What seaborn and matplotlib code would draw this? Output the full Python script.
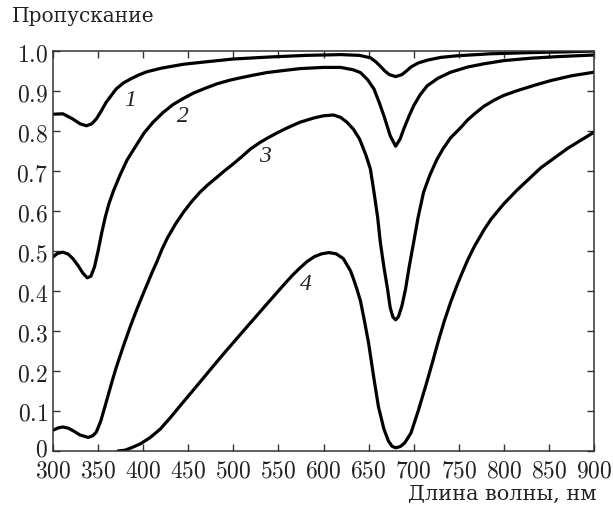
import matplotlib
matplotlib.use("Agg")
import matplotlib.pyplot as plt
import matplotlib.transforms as mtransforms
import seaborn as sns
import pandas as pd

# ---- data ----
x1 = [300, 311, 322, 330, 337, 343, 348, 353, 359, 365, 370, 378, 386, 395, 404, 420, 445, 470, 500, 540, 580, 619, 640, 652, 658, 663, 668, 673, 680, 687, 692, 697, 705, 715, 730, 748, 785, 830, 870, 900]
y1 = [0.842, 0.843, 0.830, 0.818, 0.813, 0.818, 0.830, 0.848, 0.872, 0.890, 0.905, 0.920, 0.930, 0.940, 0.948, 0.957, 0.967, 0.973, 0.980, 0.985, 0.989, 0.991, 0.989, 0.983, 0.973, 0.962, 0.950, 0.941, 0.936, 0.941, 0.950, 0.960, 0.970, 0.977, 0.984, 0.988, 0.993, 0.996, 0.998, 1.0]

x2 = [300, 305, 311, 317, 322, 328, 333, 338, 342, 346, 350, 354, 358, 362, 367, 374, 382, 392, 401, 411, 422, 433, 445, 456, 469, 482, 496, 510, 523, 537, 555, 574, 600, 619, 633, 641, 649, 656, 662, 667, 674, 680, 685, 689, 695, 700, 707, 715, 727, 741, 760, 778, 800, 830, 860, 900]
y2 = [0.485, 0.494, 0.497, 0.492, 0.481, 0.463, 0.445, 0.433, 0.437, 0.460, 0.500, 0.545, 0.585, 0.618, 0.650, 0.688, 0.727, 0.763, 0.795, 0.822, 0.846, 0.866, 0.882, 0.895, 0.907, 0.918, 0.927, 0.934, 0.940, 0.946, 0.951, 0.956, 0.959, 0.959, 0.953, 0.946, 0.928, 0.905, 0.870, 0.838, 0.788, 0.762, 0.780, 0.805, 0.838, 0.863, 0.890, 0.913, 0.932, 0.947, 0.960, 0.968, 0.976, 0.982, 0.986, 0.990]

x3 = [300, 306, 311, 317, 322, 330, 339, 344, 348, 353, 359, 365, 370, 378, 386, 394, 400, 405, 410, 415, 421, 427, 436, 445, 454, 463, 471, 480, 490, 500, 510, 519, 530, 540, 550, 560, 574, 590, 600, 611, 619, 626, 633, 640, 647, 652, 656, 660, 663, 667, 671, 674, 677, 680, 683, 687, 691, 695, 700, 705, 711, 718, 726, 733, 741, 752, 760, 767, 778, 790, 800, 815, 835, 852, 875, 900]
y3 = [0.052, 0.058, 0.060, 0.057, 0.051, 0.040, 0.034, 0.038, 0.047, 0.075, 0.122, 0.170, 0.208, 0.262, 0.313, 0.360, 0.393, 0.420, 0.447, 0.472, 0.505, 0.533, 0.568, 0.598, 0.624, 0.647, 0.664, 0.681, 0.700, 0.718, 0.737, 0.755, 0.772, 0.785, 0.797, 0.808, 0.822, 0.833, 0.838, 0.840, 0.834, 0.822, 0.805, 0.780, 0.740, 0.705, 0.647, 0.585, 0.522, 0.460, 0.405, 0.358, 0.335, 0.328, 0.335, 0.363, 0.405, 0.460, 0.522, 0.585, 0.647, 0.690, 0.730, 0.757, 0.783, 0.808, 0.828, 0.842, 0.862, 0.878, 0.889, 0.901, 0.915, 0.926, 0.938, 0.947]

x4 = [372, 380, 389, 397, 408, 419, 430, 441, 454, 467, 478, 490, 508, 520, 537, 555, 565, 574, 582, 590, 598, 606, 614, 622, 630, 633, 637, 641, 645, 650, 656, 661, 667, 672, 676, 680, 685, 690, 697, 705, 713, 720, 727, 734, 741, 747, 752, 760, 767, 778, 786, 800, 815, 841, 871, 900]
y4 = [0.0, 0.002, 0.010, 0.018, 0.034, 0.055, 0.083, 0.113, 0.148, 0.183, 0.213, 0.245, 0.292, 0.323, 0.367, 0.413, 0.438, 0.458, 0.474, 0.486, 0.493, 0.496, 0.493, 0.481, 0.450, 0.432, 0.405, 0.375, 0.330, 0.270, 0.180, 0.110, 0.055, 0.025, 0.012, 0.008, 0.011, 0.020, 0.045, 0.100, 0.160, 0.215, 0.272, 0.325, 0.372, 0.408, 0.436, 0.478, 0.510, 0.553, 0.580, 0.618, 0.653, 0.708, 0.757, 0.797]

curve_names = ["1", "2", "3", "4"]
label_x = [385.5, 444.5, 535.5, 580.0]
label_y = [0.880, 0.838, 0.740, 0.418]

x_ticks = [300, 350, 400, 450, 500, 550, 600, 650, 700, 750, 800, 850, 900]
x_ticklabels = ["300", "350", "400", "450", "500", "550", "600", "650", "700", "750", "800", "850", "900"]
y_ticks = [0, 0.1, 0.2, 0.3, 0.4, 0.5, 0.6, 0.7, 0.8, 0.9, 1.0]
y_ticklabels = ["0", "0.1", "0.2", "0.3", "0.4", "0.5", "0.6", "0.7", "0.8", "0.9", "1.0"]

title_text = "Пропускание"
xlabel_text = "Длина волны, нм"

# ---- build long-form table ----
frames = []
for name, xs, ys in zip(curve_names, [x1, x2, x3, x4], [y1, y2, y3, y4]):
    frames.append(pd.DataFrame({"wl": xs, "T": ys, "curve": name}))
df = pd.concat(frames, ignore_index=True)

sns.set_style("ticks")
plt.rcParams["font.family"] = ["DejaVu Serif"]
plt.rcParams["mathtext.fontset"] = "cm"

fig = plt.figure(figsize=(6.13, 5.06), dpi=100)
ax = fig.add_axes([53 / 613, 54 / 506, 541 / 613, 400 / 506])

sns.lineplot(data=df, x="wl", y="T", hue="curve",
             palette={n: "black" for n in curve_names},
             linewidth=2.3, legend=False, ax=ax, sort=True, estimator=None)
for ln in ax.lines:
    ln.set_solid_joinstyle("round")
    ln.set_solid_capstyle("round")

ax.set_xlim(300, 900)
ax.set_ylim(0, 1.0)
ax.set_xlabel("")
ax.set_ylabel("")

ax.set_xticks(x_ticks)
ax.set_xticklabels(["$" + t + "$" for t in x_ticklabels], fontsize=17)
ax.set_yticks(y_ticks)
ax.set_yticklabels(["$" + t + "$" for t in y_ticklabels], fontsize=17)

ax.tick_params(direction="in", length=5, width=1.0, color="#333333",
               top=True, right=True, labelcolor="#222222")
ax.tick_params(axis="x", pad=5.5)
ax.tick_params(axis="y", pad=3.5)
for s in ax.spines.values():
    s.set_visible(True)
    s.set_linewidth(1.1)
    s.set_color("#333333")

# nudge the bottom y label ("0") slightly up so it clears the "300" label
zero_lab = ax.yaxis.get_major_ticks()[0].label1
zero_lab.set_transform(zero_lab.get_transform() +
                       mtransforms.ScaledTranslation(0, 3 / 72, fig.dpi_scale_trans))

for name, lx, ly in zip(curve_names, label_x, label_y):
    ax.text(lx, ly, name, family="Liberation Serif", style="italic",
            fontsize=17, color="#222222", ha="center", va="center")

fig.text(12 / 613, 1 - 16 / 506, title_text, fontsize=14.5, color="#222222",
         ha="left", va="center")
fig.text(597 / 613, 1 - 494 / 506, xlabel_text, fontsize=15, color="#222222",
         ha="right", va="center")

fig.savefig("out.png", dpi=100)
